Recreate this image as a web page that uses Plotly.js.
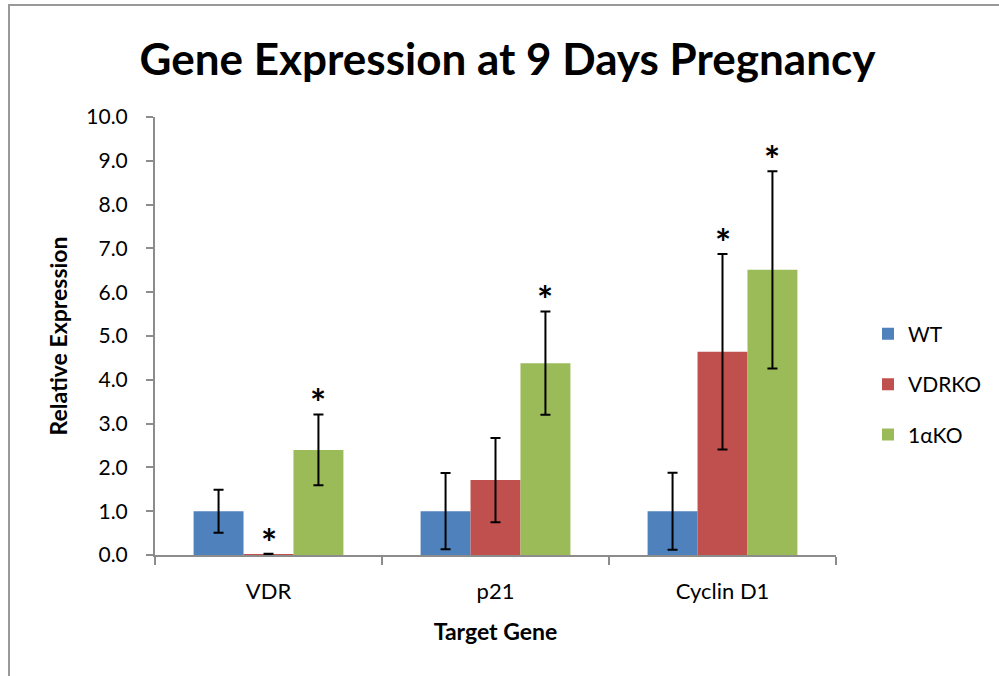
<!DOCTYPE html>
<html>
<head>
<meta charset="utf-8">
<script src="https://cdn.plot.ly/plotly-3.0.1.min.js"></script>
<style>
  html, body { margin: 0; padding: 0; background: #fff; }
  #wrap { position: relative; width: 999px; height: 676px; }
  #chart { width: 999px; height: 676px; }
  #frameTop { position: absolute; left: 8px; top: 4px; width: 991px; height: 2px; background: #999; }
  #frameLeft { position: absolute; left: 8px; top: 4px; width: 2px; height: 672px; background: #999; }
</style>
</head>
<body>
<div id="wrap">
  <div id="chart"></div>
  <div id="frameTop"></div>
  <div id="frameLeft"></div>
</div>
<script>
// ---- data ----
const categories = ["VDR", "p21", "Cyclin D1"];
const seriesNames = ["WT", "VDRKO", "1αKO"];
const wtValues = [1.0, 1.0, 1.0];
const wtErrors = [0.49, 0.87, 0.88];
const vdrkoValues = [0.02, 1.71, 4.64];
const vdrkoErrors = [0.01, 0.96, 2.23];
const akoValues = [2.40, 4.38, 6.51];
const akoErrors = [0.81, 1.18, 2.25];
// significance marks (true = asterisk drawn above bar)
const wtSig = [false, false, false];
const vdrkoSig = [true, false, true];
const akoSig = [true, true, true];
const yTickVals = [0, 1, 2, 3, 4, 5, 6, 7, 8, 9, 10];

// ---- styles ----
const colors = ["#4F81BD", "#C0504D", "#9BBB59"];
const FONT = "Lato, 'Open Sans', sans-serif";
const bargap = 0.34;

const values = [wtValues, vdrkoValues, akoValues];
const errors = [wtErrors, vdrkoErrors, akoErrors];
const sigs = [wtSig, vdrkoSig, akoSig];

const traces = seriesNames.map((name, i) => ({
  type: "bar",
  name: name,
  legendgroup: "g" + i,
  x: categories,
  y: values[i],
  marker: { color: colors[i], line: { width: 0 } },
  error_y: { type: "data", array: errors[i], visible: true, color: "#000", thickness: 2, width: 5 }
}));

// asterisk annotations derived from data
const barW = (1 - bargap) / seriesNames.length;
const annotations = [];
sigs.forEach((sig, i) => {
  sig.forEach((s, c) => {
    if (!s) return;
    annotations.push({
      xref: "x", yref: "y",
      x: c + (i - (seriesNames.length - 1) / 2) * barW,
      y: values[i][c] + errors[i][c],
      text: "*",
      showarrow: false,
      yanchor: "bottom",
      yshift: -13,
      font: { family: FONT, size: 38, color: "#000", weight: "bold" }
    });
  });
});

const layout = {
  width: 999,
  height: 676,
  paper_bgcolor: "#fff",
  plot_bgcolor: "#fff",
  margin: { l: 155, r: 161, t: 117, b: 121 },
  title: {
    text: "<b>Gene Expression at 9 Days Pregnancy</b>",
    font: { family: FONT, size: 44, color: "#000" },
    x: 0.508, xanchor: "center",
    y: 0.912, yanchor: "middle"
  },
  barmode: "group",
  bargap: bargap,
  bargroupgap: 0,
  showlegend: true,
  legend: {
    x: 1.047, xanchor: "left",
    y: 0.39, yanchor: "middle",
    font: { family: FONT, size: 21, color: "#000" },
    traceorder: "grouped",
    tracegroupgap: 20,
    itemwidth: 30,
    bgcolor: "rgba(0,0,0,0)"
  },
  xaxis: {
    type: "category",
    showline: true, linecolor: "#8c8c8c", linewidth: 2,
    ticks: "outside", ticklen: 8, tickcolor: "#8c8c8c", tickwidth: 2,
    tickson: "boundaries",
    ticklabelstandoff: 16,
    showgrid: false, zeroline: false,
    tickfont: { family: FONT, size: 22, color: "#000" },
    title: { text: "<b>Target Gene</b>", font: { family: FONT, size: 23, color: "#000" }, standoff: 20 }
  },
  yaxis: {
    range: [0, 10],
    tickvals: yTickVals,
    ticktext: yTickVals.map(v => v.toFixed(1)),
    showline: true, linecolor: "#8c8c8c", linewidth: 2,
    ticks: "outside", ticklen: 7, tickcolor: "#8c8c8c", tickwidth: 2,
    showgrid: false, zeroline: false,
    ticklabelstandoff: 14,
    tickfont: { family: FONT, size: 21, color: "#000" },
    title: { text: "<b>Relative Expression</b>", font: { family: FONT, size: 23, color: "#000" }, standoff: 12 }
  },
  annotations: annotations
};

Plotly.newPlot("chart", traces, layout, { displayModeBar: false, staticPlot: true });
</script>
</body>
</html>
